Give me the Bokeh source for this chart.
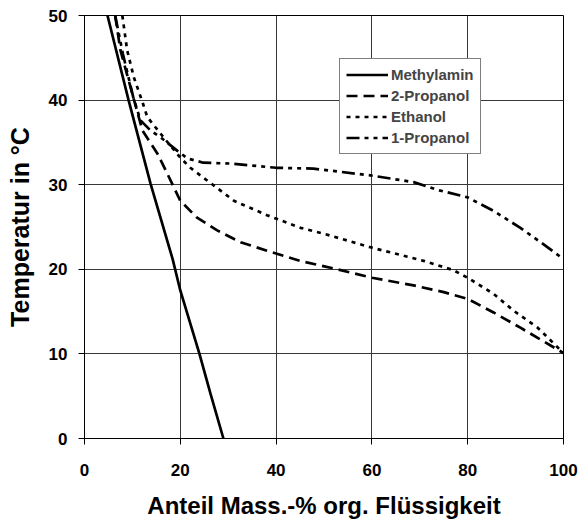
from bokeh.plotting import figure
from bokeh.models import Range1d, FixedTicker, Legend, LegendItem
from bokeh.embed import file_html
from bokeh.resources import INLINE

# ---- data ----
x_ticks = [0, 20, 40, 60, 80, 100]
y_ticks = [0, 10, 20, 30, 40, 50]

methylamin_x = [4.8, 9.2, 13.8, 18.4, 20.0, 24.0, 26.3, 29.0]
methylamin_y = [50, 40, 30.1, 21.2, 17.5, 10.0, 5.3, 0.0]

propanol2_x = [6.4, 7.5, 10.2, 12.1, 15.2, 17.3, 20.0, 23.5, 27.7, 32.6, 38.1, 45.0, 52.0, 60.0, 68.7, 75.0, 80.0, 85.4, 91.0, 100.0]
propanol2_y = [50, 45.9, 40.3, 36.4, 33.7, 31.3, 28.1, 26.1, 24.6, 23.2, 22.2, 21.0, 20.1, 19.0, 18.1, 17.3, 16.5, 14.9, 13.1, 10.1]

ethanol_x = [7.9, 8.9, 10.3, 12.2, 13.1, 16.5, 20.0, 22.1, 25.6, 31.2, 38.1, 45.1, 50.0, 59.7, 70.8, 77.0, 80.0, 85.4, 89.6, 94.6, 100.0]
ethanol_y = [50, 45.9, 42.7, 39.6, 38.0, 35.6, 33.2, 32.0, 30.5, 28.1, 26.4, 24.9, 24.2, 22.6, 21.0, 19.9, 19.0, 17.1, 15.1, 13.1, 10.1]

propanol1_x = [6.4, 8.0, 10.2, 11.7, 13.8, 15.9, 19.4, 21.5, 24.8, 30.5, 40.0, 47.8, 59.7, 68.7, 74.3, 80.0, 85.4, 91.0, 96.7, 100.0]
propanol1_y = [50, 45.5, 40.3, 37.6, 36.4, 35.6, 34.0, 33.1, 32.6, 32.5, 32.0, 31.9, 31.1, 30.3, 29.3, 28.5, 26.9, 24.9, 22.6, 21.2]

series_names = ["Methylamin", "2-Propanol", "Ethanol", "1-Propanol"]

FONT = "Liberation Sans"

p = figure(width=579, height=522, output_backend="svg", toolbar_location=None,
           x_range=Range1d(0, 100), y_range=Range1d(0, 50),
           min_border_left=84, min_border_right=16, min_border_top=15, min_border_bottom=84)

p.background_fill_color = "white"
p.border_fill_color = "white"
p.outline_line_color = "black"
p.outline_line_width = 1

for ax, ticks in ((p.xaxis[0], x_ticks), (p.yaxis[0], y_ticks)):
    ax.ticker = FixedTicker(ticks=ticks)
    ax.axis_line_color = "black"
    ax.axis_line_width = 1
    ax.major_tick_line_color = "black"
    ax.major_tick_out = 6
    ax.major_tick_in = 0
    ax.minor_tick_line_color = None
    ax.major_label_text_font = FONT
    ax.major_label_text_font_style = "bold"
    ax.major_label_text_font_size = "17px"
    ax.major_label_text_color = "black"
    ax.axis_label_text_font = FONT
    ax.axis_label_text_font_style = "bold"
    ax.axis_label_text_color = "black"

p.xaxis.axis_label = "Anteil Mass.-% org. Flüssigkeit"
p.yaxis.axis_label = "Temperatur in °C"
p.xaxis.axis_label_text_font_size = "24px"
p.yaxis.axis_label_text_font_size = "25px"
p.xaxis.major_label_standoff = 19
p.xaxis.axis_label_standoff = 13
p.yaxis.major_label_standoff = 11
p.yaxis.axis_label_standoff = 12

p.xgrid[0].ticker = FixedTicker(ticks=x_ticks)
p.ygrid[0].ticker = FixedTicker(ticks=y_ticks)
for g in (p.xgrid[0], p.ygrid[0]):
    g.grid_line_color = "#383838"
    g.grid_line_width = 1

lw = 2.7
r1 = p.line(methylamin_x, methylamin_y, line_color="black", line_width=lw)
r2 = p.line(propanol2_x, propanol2_y, line_color="black", line_width=lw, line_dash="11 6")
r3 = p.line(ethanol_x, ethanol_y, line_color="black", line_width=lw, line_dash="4 5")
r4 = p.line(propanol1_x, propanol1_y, line_color="black", line_width=lw, line_dash="13 5 4 5 4 5")

legend = Legend(items=[LegendItem(label=n, renderers=[r]) for n, r in zip(series_names, [r1, r2, r3, r4])],
                location=(255, 284))
legend.label_text_font = FONT
legend.label_text_font_style = "bold"
legend.label_text_font_size = "15px"
legend.glyph_width = 42
legend.glyph_height = 19
legend.label_height = 19
legend.label_standoff = 3
legend.spacing = 2
legend.padding = 6
legend.margin = 0
legend.border_line_color = "black"
legend.border_line_width = 1
legend.background_fill_color = "white"
legend.background_fill_alpha = 1
p.add_layout(legend)

open("out.html", "w").write(file_html(p, INLINE))
